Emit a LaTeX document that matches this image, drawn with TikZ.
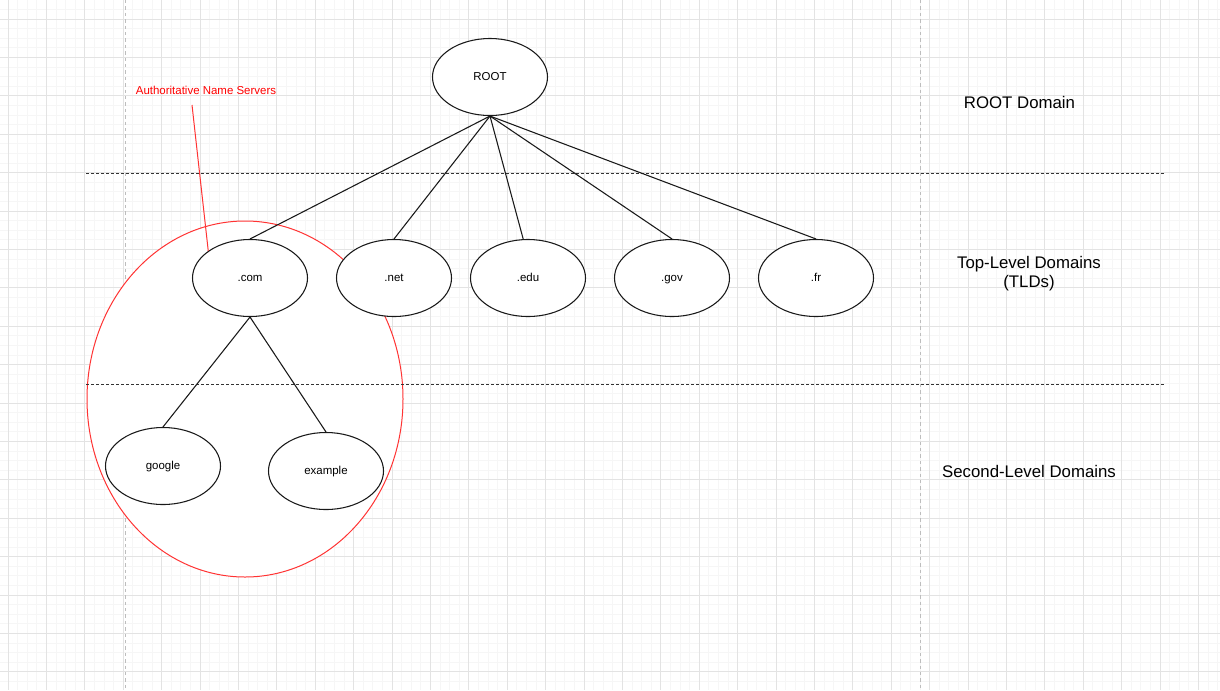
\documentclass[tikz,border=0pt]{standalone}
\usepackage{fontspec}
\setmainfont{Liberation Sans}
\usetikzlibrary{shapes.geometric}
\definecolor{minorgrid}{HTML}{F6F6F6}
\definecolor{majorgrid}{HTML}{E3E3E3}
\definecolor{vdash}{HTML}{BDBDBD}
\definecolor{authred}{HTML}{FF3333}
\begin{document}
\begin{tikzpicture}[x=0.75pt,y=-0.75pt,
  dnode/.style={ellipse,draw=black!90,line width=0.8pt,fill=white,minimum width=86.25pt,minimum height=57.75pt,inner sep=0pt,text height=6.3pt,text depth=1.7pt,font=\fontsize{8.6pt}{10pt}\selectfont},
  edge/.style={draw=black!90,line width=0.8pt},
  lvl/.style={font=\fontsize{12.6pt}{14.5pt}\selectfont,align=center,inner sep=0pt},
  sep/.style={draw=black!80,line width=0.75pt,dash pattern=on 2.25pt off 1.5pt},
  vsep/.style={draw=vdash,line width=0.75pt,dash pattern=on 2.6pt off 2.2pt},
  mg/.style={draw=minorgrid,line width=0.75pt},
  Mg/.style={draw=majorgrid,line width=0.75pt}]
\useasboundingbox (0,0) rectangle (1220,690);
\fill[white] (0,0) rectangle (1220,690);
% grid
\foreach \i in {0,...,128} { \draw[mg] ({-1.6+9.6*\i},0) -- ({-1.6+9.6*\i},690); }
\foreach \i in {0,...,73} { \draw[mg] (0,{-0.2+9.6*\i}) -- (1220,{-0.2+9.6*\i}); }
\foreach \i in {0,...,31} { \draw[Mg] ({8+38.4*\i},0) -- ({8+38.4*\i},690); }
\foreach \i in {0,...,17} { \draw[Mg] (0,{19+38.4*\i}) -- (1220,{19+38.4*\i}); }
% vertical separators
\draw[vsep] (125,0) -- (125,690);
\draw[vsep] (920,0) -- (920,690);
% authoritative region
\node[ellipse,draw=authred,line width=0.75pt,fill=white,minimum width=237pt,minimum height=267pt,inner sep=0pt] (auth) at (245,399) {};
% horizontal separators
\draw[sep] (86,173) -- (1165,173);
\draw[sep] (86,384) -- (1165,384);
% nodes
\node[dnode] (root) at (490,77) {ROOT};
\node[dnode] (com) at (250,278) {.com};
\node[dnode] (net) at (394,278) {.net};
\node[dnode] (edu) at (528,278) {.edu};
\node[dnode] (gov) at (672,278) {.gov};
\node[dnode] (fr) at (816,278) {.fr};
\node[dnode] (google) at (163,466) {google};
\node[dnode] (example) at (326,471) {example};
% edges
\draw[edge] (root.south) -- (com.north);
\draw[edge] (root.south) -- (net.north);
\draw[edge] (root.south) -- (edu.97);
\draw[edge] (root.south) -- (gov.north);
\draw[edge] (root.south) -- (fr.north);
\draw[edge] (com.south) -- (google.north);
\draw[edge] (com.south) -- (example.north);
% label
\node[text=red,font=\fontsize{8.6pt}{10pt}\selectfont,inner sep=0pt] (authlabel) at (206,90) {Authoritative Name Servers};
\coordinate (authtail) at (192,105);
\draw[draw=authred,line width=0.75pt] (authtail) -- (com.147);
% level labels
\node[lvl] (lroot) at (1019.5,102) {ROOT Domain};
\node[lvl] (ltld) at (1029,273.5) {Top-Level Domains\\(TLDs)};
\node[lvl] (lsld) at (1029,471) {Second-Level Domains};
\end{tikzpicture}
\end{document}
